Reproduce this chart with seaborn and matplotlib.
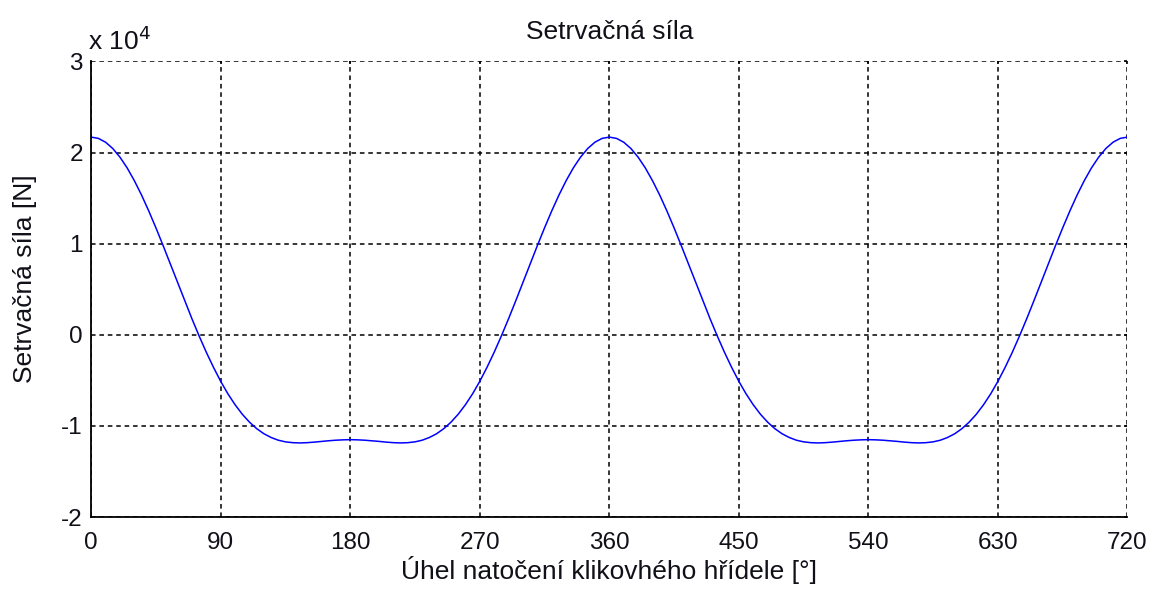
import numpy as np
import pandas as pd
import seaborn as sns
import matplotlib.pyplot as plt
from matplotlib.ticker import FuncFormatter


# =========================
# Data
# =========================

# crank angle [deg], 5 degree step
angle = np.arange(0, 721, 5)

# inertia force [N]
force = [
    21700, 21560, 21140, 20450, 19500, 18320, 16920, 15340, 13600, 11740,
    9790, 7780, 5750, 3740, 1770, -120, -1910, -3570, -5100, -6470,
    -7670, -8710, -9580, -10290, -10850, -11260, -11560, -11740, -11830, -11860,
    -11830, -11770, -11690, -11620, -11560, -11520, -11500, -11520, -11560, -11620,
    -11690, -11770, -11830, -11860, -11830, -11740, -11560, -11260, -10850, -10290,
    -9580, -8710, -7670, -6470, -5100, -3570, -1910, -120, 1770, 3740,
    5750, 7780, 9790, 11740, 13600, 15340, 16920, 18320, 19500, 20450,
    21140, 21560, 21700, 21560, 21140, 20450, 19500, 18320, 16920, 15340,
    13600, 11740, 9790, 7780, 5750, 3740, 1770, -120, -1910, -3570,
    -5100, -6470, -7670, -8710, -9580, -10290, -10850, -11260, -11560, -11740,
    -11830, -11860, -11830, -11770, -11690, -11620, -11560, -11520, -11500, -11520,
    -11560, -11620, -11690, -11770, -11830, -11860, -11830, -11740, -11560, -11260,
    -10850, -10290, -9580, -8710, -7670, -6470, -5100, -3570, -1910, -120,
    1770, 3740, 5750, 7780, 9790, 11740, 13600, 15340, 16920, 18320,
    19500, 20450, 21140, 21560, 21700,
]

x_ticks = [0, 90, 180, 270, 360, 450, 540, 630, 720]
y_ticks = [-20000, -10000, 0, 10000, 20000, 30000]

df = pd.DataFrame({"angle": angle, "force": force})


# =========================
# Style
# =========================

sns.set_style("white")
plt.rcParams["font.family"] = ["Liberation Sans", "DejaVu Sans"]
plt.rcParams["text.color"] = "#101018"
plt.rcParams["axes.labelcolor"] = "#101018"
plt.rcParams["xtick.color"] = "black"
plt.rcParams["ytick.color"] = "black"


# =========================
# Plot
# =========================

fig = plt.figure(figsize=(11.54, 5.91), dpi=100)
ax = fig.add_axes([0.079, 0.125, 0.898, 0.771])

sns.lineplot(data=df, x="angle", y="force", color="#0000ff",
             linewidth=1.1, ax=ax)

ax.set_xlim(0, 720)
ax.set_ylim(-20000, 30000)
ax.set_xticks(x_ticks)
ax.set_yticks(y_ticks)
ax.yaxis.set_major_formatter(FuncFormatter(lambda v, p: f"{v / 1e4:g}"))

ax.grid(True, color="black", linestyle=(0, (3, 2.5)), linewidth=1.1)
ax.tick_params(direction="in", length=7, width=1.2, labelsize=17.5,
               labelcolor="#101018")
ax.tick_params(axis="x", pad=11)
ax.tick_params(axis="y", pad=6)

for side in ["left", "bottom"]:
    ax.spines[side].set_color("black")
    ax.spines[side].set_linewidth(1.3)
for side in ["top", "right"]:
    ax.spines[side].set_visible(False)

# short ticks on the top and right edges
top = ax.secondary_xaxis("top")
top.set_xticks(x_ticks)
top.tick_params(direction="in", length=2.5, width=1.2, labeltop=False)
top.spines["top"].set_visible(False)
right = ax.secondary_yaxis("right")
right.set_yticks(y_ticks)
right.tick_params(direction="in", length=2.5, width=1.2, labelright=False)
right.spines["right"].set_visible(False)

ax.set_title("Setrvačná síla", fontsize=19, pad=16)
ax.set_xlabel("Úhel natočení klikovhého hřídele [°]", fontsize=19, labelpad=1)
ax.set_ylabel("Setrvačná síla [N]", fontsize=19)
ax.yaxis.set_label_coords(-0.052, 0.524)

ax.text(-0.003, 1.025, r"x 10$^4$", transform=ax.transAxes,
        fontsize=19, ha="left", va="baseline")

fig.savefig("out.png", dpi=100)
